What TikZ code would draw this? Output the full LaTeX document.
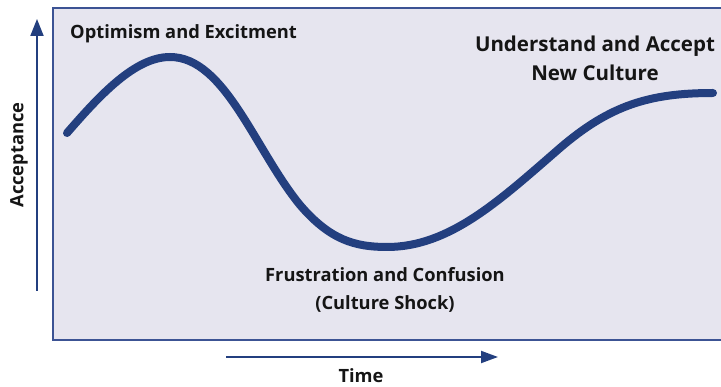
\documentclass[tikz,border=0pt]{standalone}
\usepackage{fontspec}
\setmainfont{Open Sans}
\usetikzlibrary{arrows.meta}
\definecolor{curveblue}{HTML}{233F7F}
\definecolor{boxfill}{HTML}{E6E5EF}
\definecolor{boxline}{HTML}{3C5394}
\definecolor{textdark}{HTML}{151515}
\tikzset{
  lbl/.style={font=\bfseries\fontsize{18.3}{28}\selectfont, text=textdark, inner sep=0pt, align=center},
  biglbl/.style={lbl, font=\bfseries\fontsize{20.5}{29}\selectfont},
  axisarrow/.style={draw=curveblue, line width=2pt, -{Triangle[length=17pt,width=13pt]}},
  curvestyle/.style={draw=curveblue, line width=8pt, line cap=round}
}
\begin{document}
\begin{tikzpicture}[x=1pt,y=-1pt]
\useasboundingbox (0,0) rectangle (721,387);
\draw[boxline, line width=1.5pt, fill=boxfill] (53,8) rectangle (740,340);
% axes
\coordinate (ybot) at (37,291);
\coordinate (ytop) at (37,19);
\draw[axisarrow] (ybot) -- (ytop);
\coordinate (xl) at (226,357);
\coordinate (xr) at (498,357);
\draw[axisarrow, -{Triangle[length=17pt,width=12pt]}] (xl) -- (xr);
\node[lbl, rotate=90] (acc) at (19,155) {Acceptance};
\node[lbl] (time) at (361,376) {Time};
% curve
\coordinate (c0) at (67,133);
\coordinate (c1) at (170,57);
\coordinate (c2) at (300,205);
\coordinate (c3) at (387,247);
\coordinate (c4) at (560,148);
\coordinate (c5) at (713,93);
\draw[curvestyle] (c0) .. controls (100,95) and (135,57) .. (c1)
  .. controls (225,57) and (255,150) .. (c2)
  .. controls (330,240) and (355,247) .. (c3)
  .. controls (450,247) and (500,200) .. (c4)
  .. controls (610,105) and (650,93) .. (c5);
% labels
\node[lbl, anchor=base west] (opt) at (70,38.5) {Optimism and Excitment};
\node[biglbl] (und) at (595,58) {Understand and Accept\\New Culture};
\node[lbl] (fru) at (385,290) {Frustration and Confusion\\(Culture Shock)};
\end{tikzpicture}
\end{document}
